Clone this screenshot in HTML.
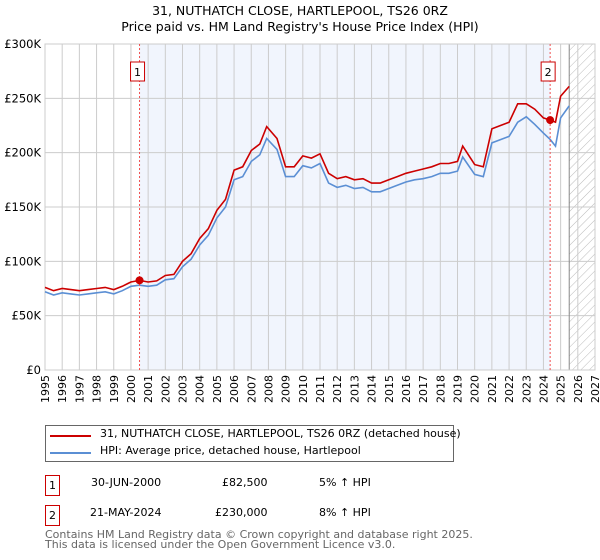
<!DOCTYPE html>
<html><head><meta charset="utf-8"><style>
body{margin:0;background:#fff;font-family:"DejaVu Sans","Liberation Sans",sans-serif;}
#wrap{position:relative;width:600px;height:560px;overflow:hidden}
.t{position:absolute;font-size:12px;color:#000;white-space:nowrap}
</style></head><body>
<div id="wrap">
<svg id="chart" width="600" height="420" style="position:absolute;left:0;top:0" font-family="DejaVu Sans, Liberation Sans, sans-serif">
<defs><pattern id="hatch" width="6" height="6" patternUnits="userSpaceOnUse" patternTransform="rotate(45)"><line x1="0" y1="0" x2="0" y2="6" stroke="#bbb" stroke-width="1"/></pattern></defs>
<text x="300" y="15" text-anchor="middle" font-size="12.5">31, NUTHATCH CLOSE, HARTLEPOOL, TS26 0RZ</text>
<text x="300" y="31" text-anchor="middle" font-size="12.5">Price paid vs. HM Land Registry's House Price Index (HPI)</text>
<g id="plot"></g>
</svg>
<div style="position:absolute;left:45px;top:425px;width:407px;height:35px;border:1px solid #666">
 <div style="position:absolute;left:4px;top:9px;width:41px;height:2px;background:#cc0000"></div>
 <div class="t" style="left:54px;top:1px;font-size:11px">31, NUTHATCH CLOSE, HARTLEPOOL, TS26 0RZ (detached house)</div>
 <div style="position:absolute;left:4px;top:26px;width:41px;height:2px;background:#5b8fd4"></div>
 <div class="t" style="left:54px;top:18px;font-size:11px">HPI: Average price, detached house, Hartlepool</div>
</div>
<div style="position:absolute;left:45px;top:475px;width:13px;height:19px;border:1px solid #cc0000;font-size:11px;text-align:center;line-height:19px">1</div>
<div class="t" style="left:91px;top:476px;font-size:11px">30-JUN-2000</div>
<div class="t" style="left:222px;top:476px;font-size:11px">£82,500</div>
<div class="t" style="left:319px;top:476px;font-size:11px">5% ↑ HPI</div>
<div style="position:absolute;left:45px;top:505px;width:13px;height:19px;border:1px solid #cc0000;font-size:11px;text-align:center;line-height:19px">2</div>
<div class="t" style="left:90px;top:506px;font-size:11px">21-MAY-2024</div>
<div class="t" style="left:215px;top:506px;font-size:11px">£230,000</div>
<div class="t" style="left:319px;top:506px;font-size:11px">8% ↑ HPI</div>
<div class="t" style="left:45px;top:530px;font-size:11px;color:#666;line-height:10px">Contains HM Land Registry data © Crown copyright and database right 2025.<br>This data is licensed under the Open Government Licence v3.0.</div>
</div>
<script>
const years=[1995,1995.5,1996,1996.5,1997,1997.5,1998,1998.5,1999,1999.5,2000,2000.5,2001,2001.5,2002,2002.5,2003,2003.5,2004,2004.5,2005,2005.5,2006,2006.5,2007,2007.5,2007.9,2008.5,2009,2009.5,2010,2010.5,2011,2011.5,2012,2012.5,2013,2013.5,2014,2014.5,2015,2015.5,2016,2016.5,2017,2017.5,2018,2018.5,2019,2019.3,2020,2020.5,2021,2021.5,2022,2022.5,2023,2023.5,2024,2024.4,2024.7,2025,2025.5];
const hpi=[72,69,71,70,69,70,71,72,70,73,77,78,77,78,83,84,95,102,115,124,140,150,175,178,192,198,213,203,178,178,188,186,190,172,168,170,167,168,164,164,167,170,173,175,176,178,181,181,183,196,180,178,209,212,215,228,233,226,218,212,206,232,243];
const price=[76,73,75,74,73,74,75,76,74,77,81,82.5,81,82,87,88,100,107,121,130,147,157,184,187,202,208,224,213,187,187,197,195,199,181,176,178,175,176,172,172,175,178,181,183,185,187,190,190,192,206,189,187,222,225,228,245,245,240,232,230,228,252,261];
const yTicks=[0,50,100,150,200,250,300];
const yLabels=["£0","£50K","£100K","£150K","£200K","£250K","£300K"];
const xTicks=[1995,1996,1997,1998,1999,2000,2001,2002,2003,2004,2005,2006,2007,2008,2009,2010,2011,2012,2013,2014,2015,2016,2017,2018,2019,2020,2021,2022,2023,2024,2025,2026,2027];
const sales=[[2000.5,82.5],[2024.39,230]];
const saleLabels=["1","2"];
const X0=45,X1=595,Y0=370,Y1=44;
const xs=y=>X0+(y-1995)/(2027-1995)*(X1-X0);
const ys=v=>Y0-v/300*(Y0-Y1);
const g=document.getElementById('plot');
const NS='http://www.w3.org/2000/svg';
function el(t,a,p){const e=document.createElementNS(NS,t);for(const k in a)e.setAttribute(k,a[k]);(p||g).appendChild(e);return e;}
let r=el('rect',{x:xs(2000.5),y:Y1,width:xs(2024.39)-xs(2000.5),height:Y0-Y1,fill:'#eef3fd',opacity:0.8});


r=el('rect',{x:xs(2025.5),y:Y1,width:X1-xs(2025.5),height:Y0-Y1,fill:'url(#hatch)'});


xTicks.forEach(t=>{const l=el('line',{x1:xs(t),x2:xs(t),y1:Y1,y2:Y0,stroke:'#ccc'});


const tx=el('text',{x:0,y:0,'font-size':11,'text-anchor':'end',transform:`translate(${xs(t)+4},${Y0+5}) rotate(-90)`});tx.textContent=t;

});
yTicks.forEach((t,i)=>{const l=el('line',{x1:X0,x2:X1,y1:ys(t),y2:ys(t),stroke:'#ccc'});


const tx=el('text',{x:X0-4,y:ys(t)+4,'font-size':11.5,'text-anchor':'end'});tx.textContent=yLabels[i];

});
let b=el('line',{x1:xs(2025.5),x2:xs(2025.5),y1:Y1,y2:Y0,stroke:'#888'});


b=el('rect',{x:X0,y:Y1,width:X1-X0,height:Y0-Y1,fill:'none',stroke:'#ccc'});


function pts(arr){return years.map((y,i)=>xs(y).toFixed(1)+','+ys(arr[i]).toFixed(1)).join(' ');}
let p=el('polyline',{points:pts(hpi),fill:'none',stroke:'#5b8fd4','stroke-width':1.6});


p=el('polyline',{points:pts(price),fill:'none',stroke:'#cc0000','stroke-width':1.6});


sales.forEach((s,i)=>{
const l=el('line',{x1:xs(s[0]),x2:xs(s[0]),y1:Y1,y2:Y0,stroke:'#f05050','stroke-dasharray':'2,2'});


const c=el('circle',{cx:xs(s[0]),cy:ys(s[1]),r:4,fill:'#cc0000'});


const bx=el('rect',{x:xs(s[0])-9,y:62,width:14,height:19,fill:'#fff',stroke:'#cc0000'});


const t=el('text',{x:xs(s[0])-2,y:76,'font-size':11,'text-anchor':'middle'});t.textContent=saleLabels[i];

});
</script>
</body></html>
